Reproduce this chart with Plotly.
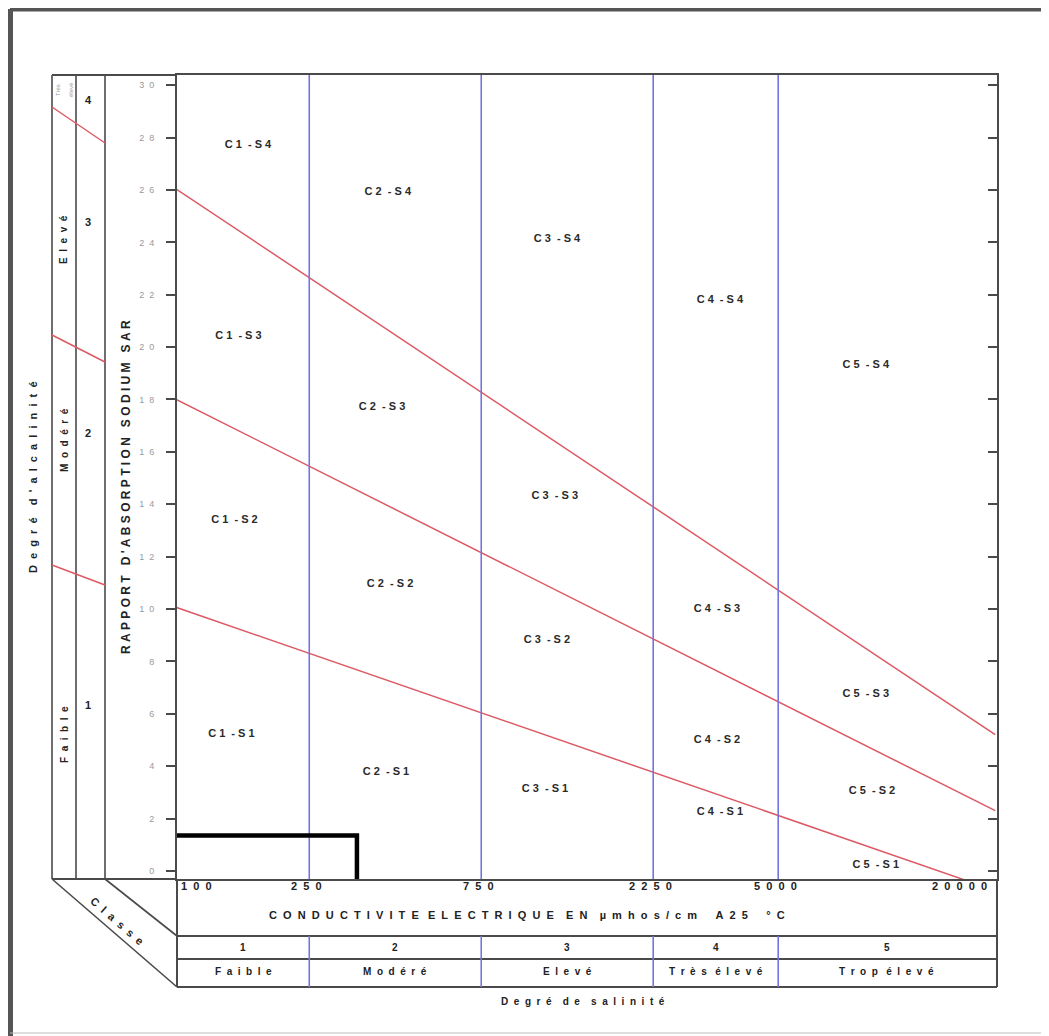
import numpy as np
import plotly.graph_objects as go

# ---------------- data ----------------
ec_bounds = [250, 750, 2250, 5000]                     # salinity class limits
ec_ticks = [100, 250, 750, 2250, 5000, 20000]
sar_ticks = list(range(0, 31, 2))

line_ec = [100, 20000]
s1_s2_sar = [10.2, -0.75]
s2_s3_sar = [18.2, 2.3]
s3_s4_sar = [26.3, 5.2]

zone_labels = ["C1-S4", "C2-S4", "C3-S4", "C4-S4", "C5-S4",
               "C1-S3", "C2-S3", "C3-S3", "C4-S3", "C5-S3",
               "C1-S2", "C2-S2", "C3-S2", "C4-S2", "C5-S2",
               "C1-S1", "C2-S1", "C3-S1", "C4-S1", "C5-S1"]
zone_ec = [169, 413, 1217, 3445, 8750,
           159, 398, 1200, 3381, 8750,
           155, 419, 1141, 3381, 9100,
           152, 408, 1127, 3445, 9330]
zone_sar = [27.7, 25.9, 24.1, 21.8, 19.3,
            20.4, 17.7, 14.3, 10.0, 6.75,
            13.4, 10.95, 8.8, 5.0, 3.05,
            5.2, 3.75, 3.1, 2.25, 0.2]

sample_ec = 339
sample_sar = 1.35

salinity_classes = ["1", "2", "3", "4", "5"]
salinity_names = ["Faible", "Modéré", "Elevé", "Très élevé", "Trop élevé"]
alk_classes = ["1", "2", "3", "4"]
alk_names = ["Faible", "Modéré", "Elevé"]

# ---------------- layout helpers ----------------
OFF = 8                      # default page margin of the html body
W, H = 1049 - OFF, 1036 - OFF
X_LOG_RANGE = [2.031, 4.306]
Y_RANGE = [-0.31, 30.39]
PL, PR, PT, PB = 177, 997, 75, 879   # plot area in picture pixels
NB = "\u00a0"


def px(x):
    return (x - OFF) / W


def py(y):
    return 1 - (y - OFF) / H


def spaced(text, n=1, gap=3):
    words = [(NB * n).join(list(w)) for w in text.split(" ")]
    return (NB * gap).join(words)


AX = "#4a4a4a"
RED = "#dc5a64"
BLUE = "#7474de"
FONT = "Liberation Sans"

fig = go.Figure()

# red SAR-class lines
for s in (s1_s2_sar, s2_s3_sar, s3_s4_sar):
    fig.add_trace(go.Scatter(x=line_ec, y=s, mode="lines",
                             line=dict(color=RED, width=1.5),
                             hoverinfo="skip", showlegend=False))

# blue salinity-class lines
for b in ec_bounds:
    fig.add_trace(go.Scatter(x=[b, b], y=Y_RANGE, mode="lines",
                             line=dict(color=BLUE, width=1.6),
                             hoverinfo="skip", showlegend=False))

# sample marker (black bracket)
x_min = 10 ** X_LOG_RANGE[0]
fig.add_trace(go.Scatter(x=[x_min, sample_ec, sample_ec],
                         y=[sample_sar, sample_sar, Y_RANGE[0]],
                         mode="lines", line=dict(color="black", width=4.5),
                         hoverinfo="skip", showlegend=False))


# zone labels
def zone_text(t):
    c, s = t.split("-")
    return NB.join(list(c)) + NB * 2 + "-" + NB + NB.join(list(s))


fig.add_trace(go.Scatter(x=zone_ec, y=zone_sar, mode="text",
                         text=[zone_text(t) for t in zone_labels],
                         textfont=dict(family=FONT, size=11, color="#2a2a2a", weight="bold"),
                         hoverinfo="skip", showlegend=False))

annotations = []
shapes = []


def line(x0, y0, x1, y1, color=AX, width=1.6):
    shapes.append(dict(type="line", xref="paper", yref="paper",
                       x0=px(x0), y0=py(y0), x1=px(x1), y1=py(y1),
                       line=dict(color=color, width=width), layer="above"))


def text(x, y, t, size=11, color="#222", angle=0, xanchor="center", bold=True):
    annotations.append(dict(x=px(x), y=py(y), xref="paper", yref="paper",
                            text=("<b>%s</b>" % t) if bold else t,
                            showarrow=False, textangle=angle, xanchor=xanchor, yanchor="middle",
                            font=dict(family=FONT, size=size, color=color)))


def xtext(xlog, y, t, size=10, xanchor="center", xshift=0):
    annotations.append(dict(x=xlog, y=py(y), xref="x", yref="paper", text="<b>%s</b>" % t,
                            showarrow=False, xanchor=xanchor, xshift=xshift, yanchor="middle",
                            font=dict(family=FONT, size=size, color="#222")))


# outer picture frame
line(10, 9, 1043, 9, color="#555", width=5)
line(10, 9, 10, 1036, color="#555", width=6)
line(1043, 9, 1043, 1033, color="#bbb", width=1)
line(10, 1033, 1043, 1033, color="#bbb", width=1)

# left alkalinity panel
for xv in (52, 76, 105):
    line(xv, PT, xv, PB)
line(52, PT, PL, PT, width=2)
line(52, PB, PL, PB, width=2)
for (a, b, c, d) in [(52, 107, 105, 143), (52, 335, 105, 362), (52, 565, 105, 585)]:
    line(a, b, c, d, color=RED, width=1.5)

# bottom table
line(52, PB, PL, 987)
line(105, PB, PL, 936)
line(PL, PB, PL, 987, width=2)
line(PR, PB, PR, 987, width=2)
for yv in (936, 959, 987):
    line(PL, yv, PR, yv, width=2)
for b in ec_bounds:
    shapes.append(dict(type="line", xref="x", yref="paper", x0=b, x1=b,
                       y0=py(936), y1=py(987), line=dict(color=BLUE, width=1.6), layer="above"))

# x tick labels
for v in ec_ticks:
    t = (NB * 2).join(list(str(v)))
    if v == 100:
        xtext(X_LOG_RANGE[0], 886, t, size=11, xanchor="left", xshift=2)
    elif v == 20000:
        xtext(np.log10(v), 886, t, size=11, xanchor="right", xshift=-6)
    else:
        xtext(np.log10(v), 886, t, size=11, xshift=-3)

# x title
text(527, 915, spaced("CONDUCTIVITE", 2) + NB * 3 + spaced("ELECTRIQUE", 2) + NB * 4 + spaced("EN", 2)
     + NB * 4 + spaced("µmhos/cm", 2) + NB * 6 + spaced("A25", 2) + NB * 6 + "°" + NB * 2 + "C", size=11)

# salinity table rows
edges = [X_LOG_RANGE[0]] + [np.log10(b) for b in ec_bounds] + [np.log10(20000)]
for i in range(5):
    cx = (edges[i] + edges[i + 1]) / 2
    xtext(cx, 947, salinity_classes[i])
    xtext(cx, 971, spaced(salinity_names[i], 2, 3))
text(583, 1001, spaced("Degré de salinité", 2, 4), size=10)

# classe diagonal
text(117, 921, spaced("Classe", 2), size=11, angle=41)

# alkalinity labels
for t, yy in zip(alk_classes, (705, 433, 222, 100)):
    text(88, yy, t, size=11)
for t, yy in zip(alk_names, (735, 440, 240)):
    text(64, yy, spaced(t, 2), size=10, angle=-90)
text(58, 90, "Très", size=6, color="#999", angle=-90, bold=False)
text(71, 90, "élevé", size=6, color="#999", angle=-90, bold=False)
text(33, 477, spaced("Degré d'alcalinité", 2, 4), size=11, angle=-90)

# y title
text(126, 487, spaced("RAPPORT D'ABSORPTION SODIUM SAR", 1, 3), size=12, angle=-90)

fig.update_layout(
    width=W, height=H, margin=dict(l=0, r=0, t=0, b=0),
    paper_bgcolor="white", plot_bgcolor="white", showlegend=False,
    xaxis=dict(type="log", range=X_LOG_RANGE, domain=[px(PL), px(PR)], showgrid=False, zeroline=False,
               showline=True, linecolor=AX, linewidth=2, mirror=True, ticks="", showticklabels=False),
    yaxis=dict(range=Y_RANGE, domain=[py(PB), py(PT)], showgrid=False, zeroline=False,
               showline=True, linecolor=AX, linewidth=2, mirror=True,
               tickvals=sar_ticks, ticktext=[(NB * 2).join(list(str(v))) for v in sar_ticks],
               ticks="outside", ticklen=9, tickwidth=2, tickcolor=AX, ticklabelstandoff=10,
               tickfont=dict(family=FONT, size=9, color="#9a9a9a")),
    yaxis2=dict(range=Y_RANGE, domain=[py(PB), py(PT)], overlaying="y", side="right", anchor="x",
                showgrid=False, zeroline=False, showline=False, tickvals=sar_ticks, ticks="inside",
                ticklen=9, tickwidth=2, tickcolor=AX, showticklabels=False),
    annotations=annotations, shapes=shapes,
)
# invisible trace to activate the right-hand tick axis
fig.add_trace(go.Scatter(x=[ec_ticks[0]], y=[sar_ticks[0]], yaxis="y2", mode="markers",
                         marker=dict(opacity=0), hoverinfo="skip", showlegend=False))

fig.write_html("out.html")
